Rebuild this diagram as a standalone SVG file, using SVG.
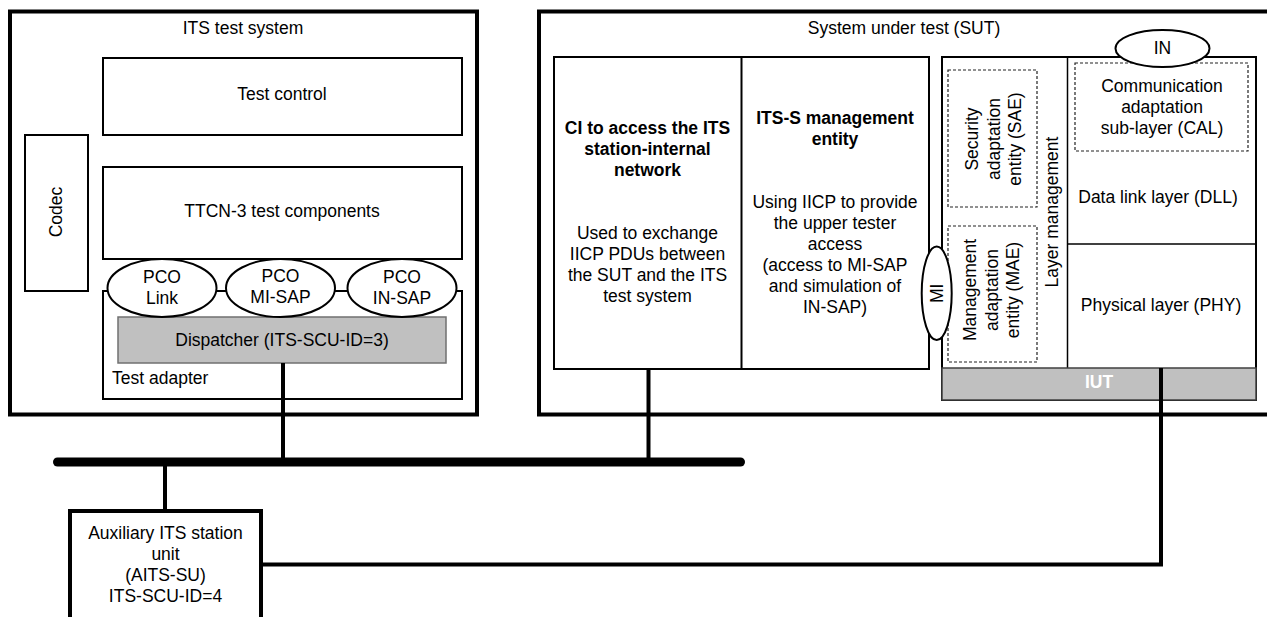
<svg xmlns="http://www.w3.org/2000/svg" width="1267" height="617" viewBox="0 0 1267 617">
  <style>
    text { font-family: "Liberation Sans", Arial, sans-serif; font-size: 17.5px; fill: #000; }
    .c { text-anchor: middle; }
    .b { font-weight: bold; }
    .frame { fill: #fff; stroke: #000; stroke-width: 4; }
    .box { fill: #fff; stroke: #000; stroke-width: 2; }
    .line { fill: none; stroke: #000; stroke-width: 1.5; }
    .dash { fill: none; stroke: #222; stroke-width: 1.2; stroke-dasharray: 3 2; }
    .port { fill: #fff; stroke: #000; stroke-width: 2; }
    .gray { fill: #c0c0c0; stroke: #707070; stroke-width: 1.5; }
    .wire { fill: none; stroke: #000; stroke-width: 4; }
    .bus { stroke: #000; stroke-width: 9; stroke-linecap: round; }
    .white { fill: #fff; }
  </style>

  <rect width="1267" height="617" fill="#fff"/>

  <!-- ITS test system -->
  <g id="its-test-system">
    <rect class="frame" x="10" y="11.5" width="467" height="403"/>
    <text class="c" x="243" y="34">ITS test system</text>
  </g>

  <g id="test-control">
    <rect class="box" x="103" y="58" width="359" height="77"/>
    <text class="c" x="282" y="100">Test control</text>
  </g>

  <g id="ttcn3-components">
    <rect class="box" x="103" y="167" width="359" height="92"/>
    <text class="c" x="282" y="217">TTCN-3 test components</text>
  </g>

  <g id="codec">
    <rect class="box" x="25" y="135" width="63" height="156"/>
    <text class="c" transform="translate(62,212) rotate(-90)">Codec</text>
  </g>

  <g id="test-adapter">
    <rect class="box" x="103" y="291" width="359" height="108"/>
    <text x="112" y="384">Test adapter</text>
  </g>

  <g id="dispatcher">
    <rect class="gray" x="118" y="317" width="328" height="46"/>
    <text class="c" x="282" y="346">Dispatcher (ITS-SCU-ID=3)</text>
  </g>

  <g id="pco-link">
    <ellipse class="port" cx="162" cy="288" rx="54.5" ry="29"/>
    <text class="c" x="162" y="282.5">PCO</text>
    <text class="c" x="162" y="303.5">Link</text>
  </g>

  <g id="pco-mi-sap">
    <ellipse class="port" cx="280.5" cy="288" rx="54.5" ry="29"/>
    <text class="c" x="280.5" y="282">PCO</text>
    <text class="c" x="280.5" y="303">MI-SAP</text>
  </g>

  <g id="pco-in-sap">
    <ellipse class="port" cx="402" cy="288" rx="54.5" ry="29"/>
    <text class="c" x="402" y="282.5">PCO</text>
    <text class="c" x="402" y="303.5">IN-SAP</text>
  </g>

  <!-- System under test -->
  <g id="sut">
    <rect class="frame" x="539" y="11.5" width="740" height="403"/>
    <text class="c" x="904" y="34">System under test (SUT)</text>
  </g>

  <g id="ci-network">
    <rect class="box" x="554" y="57" width="375" height="312"/>
    <line class="box" x1="741.5" y1="57" x2="741.5" y2="369"/>
    <text class="c b" x="647.5" y="134">CI to access the ITS</text>
    <text class="c b" x="647.5" y="155">station-internal</text>
    <text class="c b" x="647.5" y="176">network</text>
    <text class="c" x="647.5" y="239">Used to exchange</text>
    <text class="c" x="647.5" y="260">IICP PDUs between</text>
    <text class="c" x="647.5" y="281">the SUT and the ITS</text>
    <text class="c" x="647.5" y="302">test system</text>
  </g>

  <g id="its-s-management">
    <text class="c b" x="835" y="123.5">ITS-S management</text>
    <text class="c b" x="835" y="144.5">entity</text>
    <text class="c" x="835" y="207.5">Using IICP to provide</text>
    <text class="c" x="835" y="228.5">the upper tester</text>
    <text class="c" x="835" y="249.5">access</text>
    <text class="c" x="835" y="270.5">(access to MI-SAP</text>
    <text class="c" x="835" y="291.5">and simulation of</text>
    <text class="c" x="835" y="312.5">IN-SAP)</text>
  </g>

  <g id="iut-stack">
    <rect class="box" x="942" y="57" width="314" height="343"/>
    <line class="line" x1="1067.5" y1="57" x2="1067.5" y2="368"/>
    <line class="line" x1="1067.5" y1="244" x2="1256" y2="244"/>
    <text class="c" transform="translate(1057.5,212) rotate(-90)">Layer management</text>
  </g>

  <g id="sae">
    <rect class="dash" x="948" y="70" width="89" height="137"/>
    <text class="c" transform="translate(978,139) rotate(-90)">Security</text>
    <text class="c" transform="translate(999.5,139) rotate(-90)">adaptation</text>
    <text class="c" transform="translate(1021,139) rotate(-90)">entity (SAE)</text>
  </g>

  <g id="mae">
    <rect class="dash" x="948" y="226" width="89" height="136"/>
    <text class="c" transform="translate(976,290) rotate(-90)">Management</text>
    <text class="c" transform="translate(997.5,290) rotate(-90)">adaptation</text>
    <text class="c" transform="translate(1019,290) rotate(-90)">entity (MAE)</text>
  </g>

  <g id="cal">
    <rect class="dash" x="1075" y="63" width="173" height="88"/>
    <text class="c" x="1162" y="91.5">Communication</text>
    <text class="c" x="1162" y="112.5">adaptation</text>
    <text class="c" x="1162" y="133.5">sub-layer (CAL)</text>
  </g>

  <g id="dll">
    <text class="c" x="1158" y="202.5">Data link layer (DLL)</text>
  </g>

  <g id="phy">
    <text class="c" x="1161" y="311">Physical layer (PHY)</text>
  </g>

  <g id="iut">
    <rect x="942" y="368" width="314" height="32" fill="#c0c0c0" stroke="#404040" stroke-width="1.5"/>
    <text class="c b white" x="1099" y="388">IUT</text>
  </g>

  <g id="in-port">
    <ellipse class="port" cx="1162.5" cy="48.5" rx="47" ry="18.5"/>
    <text class="c" x="1162.5" y="54">IN</text>
  </g>

  <g id="mi-port">
    <ellipse class="port" cx="936.7" cy="293.3" rx="15" ry="46.7"/>
    <text class="c" transform="translate(943,293.3) rotate(-90)">MI</text>
  </g>

  <!-- Auxiliary ITS station unit -->
  <g id="aits-su">
    <rect class="frame" x="70" y="511" width="191" height="112"/>
    <text class="c" x="165.5" y="539">Auxiliary ITS station</text>
    <text class="c" x="165.5" y="560">unit</text>
    <text class="c" x="165.5" y="581">(AITS-SU)</text>
    <text class="c" x="165.5" y="602">ITS-SCU-ID=4</text>
  </g>

  <!-- Connectors -->
  <g id="connectors">
    <line class="bus" x1="57.5" y1="462" x2="740.5" y2="462"/>
    <line class="wire" x1="283" y1="363" x2="283" y2="462"/>
    <line class="wire" x1="648.5" y1="369" x2="648.5" y2="462"/>
    <line class="wire" x1="165" y1="462" x2="165" y2="511"/>
    <polyline class="wire" points="1161,368 1161,564.5 261,564.5"/>
  </g>
</svg>
